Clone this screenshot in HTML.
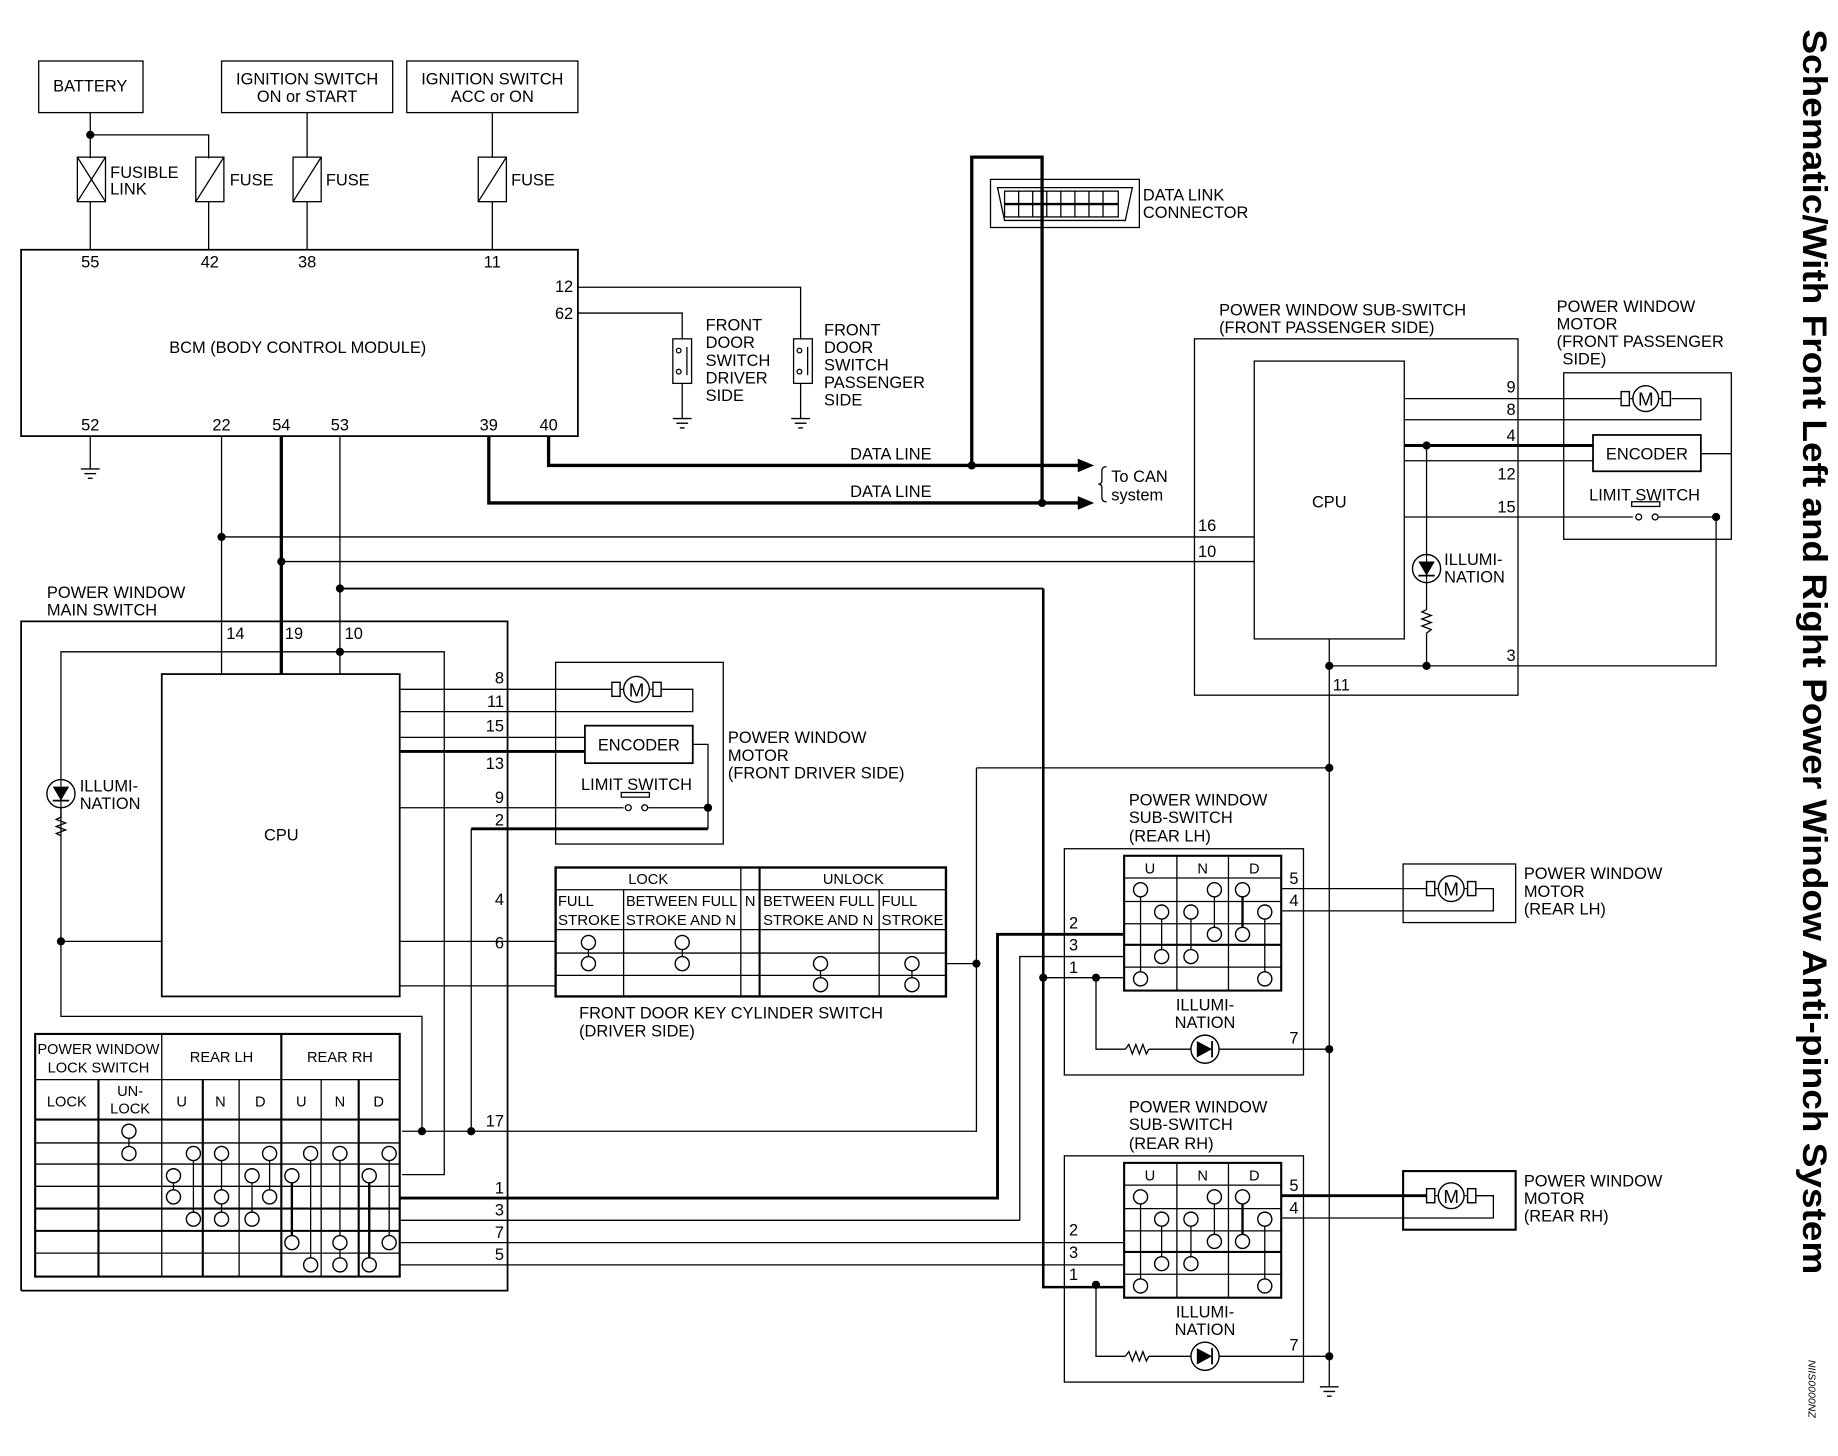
<!DOCTYPE html>
<html><head><meta charset="utf-8"><style>
html,body{margin:0;padding:0;background:#fff;}
svg{display:block;}
text{font-family:"Liberation Sans",sans-serif;font-size:14px;fill:#000;}
.t{font-size:12.5px;}
</style></head><body>
<svg width="1838" height="1456" viewBox="0 0 1568 1242" xmlns="http://www.w3.org/2000/svg">
<defs>
<g id="mot"><rect x="-21" y="-6" width="7" height="12" fill="#fff" stroke="#000" stroke-width="1.2"/><rect x="14" y="-6" width="7" height="12" fill="#fff" stroke="#000" stroke-width="1.2"/><line x1="-14" y1="0" x2="14" y2="0" stroke="#000"/><circle r="11" fill="#fff" stroke="#000" stroke-width="1.2"/><text x="0" y="6" text-anchor="middle" style="font-size:16px">M</text></g>
<g id="gnd"><line x1="-8" y1="0" x2="8" y2="0" stroke="#000" stroke-width="1.2"/><line x1="-5" y1="4" x2="5" y2="4" stroke="#000" stroke-width="1.2"/><line x1="-2" y1="8" x2="2" y2="8" stroke="#000" stroke-width="1.2"/></g>
<g id="c"><circle r="6" fill="#fff" stroke="#000" stroke-width="1.2"/></g>
<g id="dot"><circle r="3.5" fill="#000"/></g>
<g id="diode"><circle r="12" fill="#fff" stroke="#000" stroke-width="1.2"/><polygon points="-7,-7 -7,7 6,0" fill="#000"/><line x1="6" y1="-7" x2="6" y2="7" stroke="#000" stroke-width="1.5"/></g>
<g id="diodev"><circle r="12" fill="#fff" stroke="#000" stroke-width="1.2"/><polygon points="-7,-6 7,-6 0,6" fill="#000"/><line x1="-7" y1="6" x2="7" y2="6" stroke="#000" stroke-width="1.5"/><line x1="0" y1="-12" x2="0" y2="12" stroke="#000"/></g>
</defs>
<g fill="none" stroke="#000" stroke-width="1.1">
<rect x="33" y="52" width="89" height="44"/>
<rect x="189" y="52" width="146" height="44"/>
<rect x="347" y="52" width="146" height="44"/>
<polyline points="77,96 77,135"/><polyline points="77,115 178,115 178,135"/>
<rect x="66" y="134" width="24" height="38"/><line x1="66" y1="134" x2="90" y2="172"/><line x1="90" y1="134" x2="66" y2="172"/>
<rect x="167" y="134" width="24" height="38"/><line x1="191" y1="134" x2="167" y2="172"/>
<rect x="250" y="134" width="24" height="38"/><line x1="274" y1="134" x2="250" y2="172"/>
<rect x="408" y="134" width="24" height="38"/><line x1="432" y1="134" x2="408" y2="172"/>
<line x1="262" y1="96" x2="262" y2="134"/><line x1="420" y1="96" x2="420" y2="134"/>
<line x1="77" y1="172" x2="77" y2="213"/><line x1="178" y1="172" x2="178" y2="213"/><line x1="262" y1="172" x2="262" y2="213"/><line x1="420" y1="172" x2="420" y2="213"/>
<rect x="18" y="213" width="475" height="159" stroke-width="1.5"/>
<polyline points="493,245 683,245 683,289"/><polyline points="493,267 582,267 582,289"/>
<rect x="574" y="289" width="16" height="38"/><rect x="677" y="289" width="16" height="38"/>
<line x1="586" y1="296" x2="586" y2="320"/><line x1="689" y1="296" x2="689" y2="320"/>
<circle cx="579" cy="299" r="2"/><circle cx="579" cy="317" r="2"/><circle cx="682" cy="299" r="2"/><circle cx="682" cy="317" r="2"/>
<line x1="582" y1="327" x2="582" y2="357"/><line x1="683" y1="327" x2="683" y2="357"/>
<line x1="77" y1="372" x2="77" y2="400"/>
<polygon points="845,153 972,153 972,194 845,194"/>
<polygon points="851,160 966,160 960,188 857,188"/>
<rect x="857" y="163" width="97" height="22"/><line x1="857" y1="174" x2="954" y2="174" stroke-width="2"/>
<line x1="869" y1="163" x2="869" y2="185"/><line x1="881" y1="163" x2="881" y2="185"/><line x1="893" y1="163" x2="893" y2="185"/><line x1="905" y1="163" x2="905" y2="185"/><line x1="917" y1="163" x2="917" y2="185"/><line x1="929" y1="163" x2="929" y2="185"/><line x1="941" y1="163" x2="941" y2="185"/>
<g stroke-width="2.8">
<polyline points="829,396 829,134 889,134 889,428"/>
<polyline points="468,372 468,397 922,397"/>
<polyline points="417,372 417,429 922,429"/>
<polyline points="240,372 240,575"/>
<polyline points="890,502 890,1098 958,1098" stroke-width="2.2"/>
</g>
<line x1="290" y1="502" x2="890" y2="502" stroke-width="1.6"/>
<polygon points="932,397 920,392 920,402" fill="#000"/><polygon points="932,429 920,424 920,434" fill="#000"/>
<path d="M944,398 q-4,0 -4,4 v8 q0,3 -3,3 q3,0 3,3 v8 q0,4 4,4"/>
<line x1="189" y1="372" x2="189" y2="575"/>
<line x1="290" y1="372" x2="290" y2="575"/>
<line x1="189" y1="458" x2="1070" y2="458"/>
<line x1="240" y1="479" x2="1070" y2="479"/>
<polyline points="18,1101 18,530 433,530 433,1101 18,1101" stroke-width="1.5"/>
<rect x="138" y="575" width="203" height="275" stroke-width="1.5"/>
<polyline points="52,665 52,556 379,556 379,1002 343,1002"/>
<polyline points="52,689 52,867 360,867 360,965"/>
<line x1="52" y1="803" x2="138" y2="803"/>
<line x1="341" y1="588" x2="522" y2="588"/><polyline points="564,588 591,588 591,607 341,607"/>
<line x1="341" y1="629" x2="499" y2="629"/>
<line x1="341" y1="689" x2="532" y2="689"/><line x1="553" y1="689" x2="604" y2="689"/>
<polyline points="591,635 604,635 604,707"/>
<rect x="474" y="565" width="143" height="155"/>
<rect x="499" y="619" width="92" height="32" stroke-width="1.5"/>
<rect x="530" y="676" width="24" height="4"/><circle cx="536" cy="689" r="2.5"/><circle cx="550" cy="689" r="2.5"/>
<g stroke-width="2.5"><line x1="341" y1="641" x2="499" y2="641"/><polyline points="604,707 402,707"/><polyline points="341,1022 851,1022 851,797 958,797"/></g>
<line x1="402" y1="707" x2="402" y2="965"/>
<line x1="341" y1="803" x2="474" y2="803"/><line x1="341" y1="841" x2="474" y2="841"/>
<polyline points="807,822 833,822"/><polyline points="833,655 833,965 343,965"/>
<line x1="833" y1="655" x2="1133" y2="655"/>
<rect x="474" y="740" width="333" height="110" stroke-width="2"/>
<line x1="474" y1="759" x2="807" y2="759"/><line x1="474" y1="793" x2="807" y2="793"/><line x1="474" y1="813" x2="807" y2="813"/><line x1="474" y1="832" x2="807" y2="832"/>
<line x1="532" y1="759" x2="532" y2="850"/><line x1="632" y1="740" x2="632" y2="850"/><line x1="648" y1="740" x2="648" y2="850" stroke-width="1.8"/><line x1="750" y1="759" x2="750" y2="850"/>
<line x1="502" y1="804" x2="502" y2="822"/><line x1="582" y1="804" x2="582" y2="822"/><line x1="700" y1="822" x2="700" y2="840"/><line x1="778" y1="822" x2="778" y2="840"/>
<rect x="30" y="882" width="311" height="207" stroke-width="1.8"/>
<line x1="30" y1="921" x2="341" y2="921"/><line x1="30" y1="955" x2="341" y2="955" stroke-width="1.8"/>
<line x1="30" y1="975" x2="341" y2="975"/><line x1="30" y1="993" x2="341" y2="993"/><line x1="30" y1="1012" x2="341" y2="1012"/><line x1="30" y1="1031" x2="341" y2="1031" stroke-width="1.8"/><line x1="30" y1="1050" x2="341" y2="1050" stroke-width="1.8"/><line x1="30" y1="1069" x2="341" y2="1069"/>
<line x1="84" y1="921" x2="84" y2="1089" stroke-width="1.8"/><line x1="138" y1="882" x2="138" y2="1089"/><line x1="173" y1="921" x2="173" y2="1089" stroke-width="1.8"/><line x1="204" y1="921" x2="204" y2="1089"/><line x1="240" y1="882" x2="240" y2="1089" stroke-width="1.8"/><line x1="274" y1="921" x2="274" y2="1089"/><line x1="306" y1="921" x2="306" y2="1089" stroke-width="1.8"/>
<line x1="110" y1="965" x2="110" y2="984"/>
<line x1="148" y1="1003" x2="148" y2="1021"/><line x1="165" y1="984" x2="165" y2="1040"/><line x1="189" y1="984" x2="189" y2="1040"/><line x1="215" y1="1003" x2="215" y2="1040"/><line x1="230" y1="984" x2="230" y2="1021"/>
<line x1="249" y1="1003" x2="249" y2="1060" stroke-width="2"/><line x1="265" y1="984" x2="265" y2="1079"/><line x1="290" y1="984" x2="290" y2="1079"/><line x1="315" y1="1003" x2="315" y2="1079" stroke-width="2"/><line x1="332" y1="984" x2="332" y2="1060"/>
<line x1="341" y1="1041" x2="870" y2="1041"/><polyline points="870,1041 870,816 958,816"/>
<line x1="341" y1="1060" x2="958" y2="1060"/><line x1="341" y1="1079" x2="958" y2="1079"/>
<rect x="1019" y="289" width="276" height="304"/>
<rect x="1070" y="308" width="128" height="237"/>
<line x1="1198" y1="340" x2="1383" y2="340"/><polyline points="1426,340 1451,340 1451,358 1198,358"/>
<line x1="1198" y1="393" x2="1359" y2="393"/>
<polyline points="1451,387 1477,387"/>
<line x1="1198" y1="441" x2="1393" y2="441"/><line x1="1415" y1="441" x2="1464" y2="441"/>
<polyline points="1464,441 1464,568 1134,568"/>
<line x1="1217" y1="380" x2="1217" y2="473"/><line x1="1217" y1="497" x2="1217" y2="520"/><line x1="1217" y1="540" x2="1217" y2="568"/>
<line x1="1134" y1="545" x2="1134" y2="1183"/>
<rect x="1334" y="318" width="143" height="142"/>
<rect x="1359" y="371" width="92" height="31" stroke-width="1.5"/>
<rect x="1392" y="428" width="24" height="4"/><circle cx="1398" cy="441" r="2.5"/><circle cx="1412" cy="441" r="2.5"/>
<rect x="908" y="724" width="204" height="193"/>
<rect x="908" y="986" width="204" height="193"/>
<rect x="1197" y="737" width="96" height="50"/>
<rect x="1197" y="999" width="96" height="50" stroke-width="1.8"/>
<line x1="1093" y1="758" x2="1217" y2="758"/><polyline points="1259,758 1274,758 1274,777 1093,777"/>
<line x1="1093" y1="1020" x2="1217" y2="1020" stroke-width="2.5"/><polyline points="1259,1020 1274,1020 1274,1039 1093,1039"/>
<polyline points="890,834 958,834"/>
<polyline points="935,834 935,895 960,895"/><polyline points="980,895 1134,895"/>
<polyline points="935,1096 935,1157 960,1157"/><polyline points="980,1157 1134,1157"/>
<path d="M960,895 l3,-4 l3,8 l3,-8 l3,8 l3,-8 l3,8 l2,-4"/>
<path d="M960,1157 l3,-4 l3,8 l3,-8 l3,8 l3,-8 l3,8 l2,-4"/>
<path d="M1217,520 l-4,2 l8,3 l-8,3 l8,3 l-8,3 l8,3 l-4,3"/>
<path d="M52,689 l0,8 l-4,2 l8,3 l-8,3 l8,3 l-8,3 l4,2"/>
</g>
<g fill="none" stroke="#000" stroke-width="1.1" id="rsw">
<rect x="959" y="730" width="134" height="115" stroke-width="1.8"/>
<line x1="959" y1="749" x2="1093" y2="749"/><line x1="959" y1="769" x2="1093" y2="769"/><line x1="959" y1="788" x2="1093" y2="788"/><line x1="959" y1="806" x2="1093" y2="806" stroke-width="1.8"/><line x1="959" y1="825" x2="1093" y2="825"/>
<line x1="1004" y1="730" x2="1004" y2="845"/><line x1="1048" y1="730" x2="1048" y2="845"/>
<line x1="973" y1="759" x2="973" y2="835"/><line x1="991" y1="778" x2="991" y2="816"/><line x1="1016" y1="778" x2="1016" y2="816"/><line x1="1036" y1="759" x2="1036" y2="797"/><line x1="1060" y1="759" x2="1060" y2="797" stroke-width="2"/><line x1="1079" y1="778" x2="1079" y2="835"/>
<use href="#c" x="973" y="759"/><use href="#c" x="1036" y="759"/><use href="#c" x="1060" y="759"/>
<use href="#c" x="991" y="778"/><use href="#c" x="1016" y="778"/><use href="#c" x="1079" y="778"/>
<use href="#c" x="1036" y="797"/><use href="#c" x="1060" y="797"/>
<use href="#c" x="991" y="816"/><use href="#c" x="1016" y="816"/>
<use href="#c" x="973" y="835"/><use href="#c" x="1079" y="835"/>
</g>
<use href="#rsw" y="262"/>
<use href="#c" x="502" y="804"/><use href="#c" x="502" y="822"/><use href="#c" x="582" y="804"/><use href="#c" x="582" y="822"/>
<use href="#c" x="700" y="822"/><use href="#c" x="700" y="840"/><use href="#c" x="778" y="822"/><use href="#c" x="778" y="840"/>
<use href="#c" x="110" y="965"/><use href="#c" x="110" y="984"/>
<use href="#c" x="165" y="984"/><use href="#c" x="189" y="984"/><use href="#c" x="230" y="984"/><use href="#c" x="265" y="984"/><use href="#c" x="290" y="984"/><use href="#c" x="332" y="984"/>
<use href="#c" x="148" y="1003"/><use href="#c" x="215" y="1003"/><use href="#c" x="249" y="1003"/><use href="#c" x="315" y="1003"/>
<use href="#c" x="148" y="1021"/><use href="#c" x="189" y="1021"/><use href="#c" x="230" y="1021"/>
<use href="#c" x="165" y="1040"/><use href="#c" x="189" y="1040"/><use href="#c" x="215" y="1040"/>
<use href="#c" x="249" y="1060"/><use href="#c" x="290" y="1060"/><use href="#c" x="332" y="1060"/>
<use href="#c" x="265" y="1079"/><use href="#c" x="290" y="1079"/><use href="#c" x="315" y="1079"/>
<use href="#mot" x="543" y="588"/><use href="#mot" x="1404" y="340"/><use href="#mot" x="1238" y="758"/><use href="#mot" x="1238" y="1020"/>
<use href="#diodev" x="52" y="677"/><use href="#diodev" x="1217" y="485"/>
<use href="#diode" x="1028" y="895"/><use href="#diode" x="1028" y="1157"/>
<use href="#gnd" x="77" y="400"/><use href="#gnd" x="582" y="357"/><use href="#gnd" x="683" y="357"/><use href="#gnd" x="1134" y="1183"/>
<use href="#dot" x="77" y="115"/><use href="#dot" x="829" y="397"/><use href="#dot" x="889" y="429"/>
<use href="#dot" x="189" y="458"/><use href="#dot" x="240" y="479"/><use href="#dot" x="290" y="502"/><use href="#dot" x="290" y="556"/>
<use href="#dot" x="52" y="803"/><use href="#dot" x="604" y="689"/><use href="#dot" x="833" y="822"/>
<use href="#dot" x="360" y="965"/><use href="#dot" x="402" y="965"/>
<use href="#dot" x="1134" y="568"/><use href="#dot" x="1217" y="568"/><use href="#dot" x="1217" y="380"/><use href="#dot" x="1464" y="441"/>
<use href="#dot" x="1134" y="655"/><use href="#dot" x="1134" y="895"/><use href="#dot" x="1134" y="1157"/>
<use href="#dot" x="890" y="834"/><use href="#dot" x="935" y="834"/><use href="#dot" x="935" y="1096"/>
<g stroke="#000" stroke-width="2.5"><line x1="1198" y1="380" x2="1359" y2="380"/></g>
<text x="77" y="78" text-anchor="middle">BATTERY</text>
<text x="262" y="72" text-anchor="middle">IGNITION SWITCH</text><text x="262" y="87" text-anchor="middle">ON or START</text>
<text x="420" y="72" text-anchor="middle">IGNITION SWITCH</text><text x="420" y="87" text-anchor="middle">ACC or ON</text>
<text x="94" y="152">FUSIBLE</text><text x="94" y="166">LINK</text>
<text x="196" y="158">FUSE</text><text x="278" y="158">FUSE</text><text x="436" y="158">FUSE</text>
<g text-anchor="middle"><text x="77" y="228">55</text><text x="179" y="228">42</text><text x="262" y="228">38</text><text x="420" y="228">11</text>
<text x="77" y="367">52</text><text x="189" y="367">22</text><text x="240" y="367">54</text><text x="290" y="367">53</text><text x="417" y="367">39</text><text x="468" y="367">40</text></g>
<text x="489" y="249" text-anchor="end">12</text><text x="489" y="272" text-anchor="end">62</text>
<text x="254" y="301" text-anchor="middle">BCM (BODY CONTROL MODULE)</text>
<text x="602" y="282">FRONT</text><text x="602" y="297">DOOR</text><text x="602" y="312">SWITCH</text><text x="602" y="327">DRIVER</text><text x="602" y="342">SIDE</text>
<text x="703" y="286">FRONT</text><text x="703" y="301">DOOR</text><text x="703" y="316">SWITCH</text><text x="703" y="331">PASSENGER</text><text x="703" y="346">SIDE</text>
<text x="975" y="171">DATA LINK</text><text x="975" y="186">CONNECTOR</text>
<text x="760" y="392" text-anchor="middle">DATA LINE</text><text x="760" y="424" text-anchor="middle">DATA LINE</text>
<text x="948" y="411">To CAN</text><text x="948" y="427">system</text>
<text x="40" y="510">POWER WINDOW</text><text x="40" y="525">MAIN SWITCH</text>
<text x="193" y="545">14</text><text x="243" y="545">19</text><text x="294" y="545">10</text>
<text x="240" y="717" text-anchor="middle">CPU</text>
<text x="68" y="675">ILLUMI-</text><text x="68" y="690">NATION</text>
<g text-anchor="end"><text x="430" y="583">8</text><text x="430" y="603">11</text><text x="430" y="624">15</text><text x="430" y="656">13</text><text x="430" y="685">9</text><text x="430" y="704">2</text><text x="430" y="772">4</text><text x="430" y="809">6</text>
<text x="430" y="961">17</text><text x="430" y="1018">1</text><text x="430" y="1037">3</text><text x="430" y="1056">7</text><text x="430" y="1075">5</text></g>
<text x="545" y="640" text-anchor="middle">ENCODER</text><text x="543" y="674" text-anchor="middle">LIMIT SWITCH</text>
<text x="621" y="634">POWER WINDOW</text><text x="621" y="649">MOTOR</text><text x="621" y="664">(FRONT DRIVER SIDE)</text>
<g class="t">
<text class="t" x="553" y="754" text-anchor="middle">LOCK</text><text class="t" x="728" y="754" text-anchor="middle">UNLOCK</text>
<text class="t" x="476" y="773">FULL</text><text class="t" x="476" y="789" textLength="53" lengthAdjust="spacingAndGlyphs">STROKE</text>
<text class="t" x="534" y="773" textLength="95" lengthAdjust="spacingAndGlyphs">BETWEEN FULL</text><text class="t" x="534" y="789" textLength="94" lengthAdjust="spacingAndGlyphs">STROKE AND N</text>
<text class="t" x="640" y="773" text-anchor="middle">N</text>
<text class="t" x="651" y="773" textLength="95" lengthAdjust="spacingAndGlyphs">BETWEEN FULL</text><text class="t" x="651" y="789" textLength="94" lengthAdjust="spacingAndGlyphs">STROKE AND N</text>
<text class="t" x="752" y="773">FULL</text><text class="t" x="752" y="789" textLength="53" lengthAdjust="spacingAndGlyphs">STROKE</text>
<text class="t" x="32" y="899" textLength="104" lengthAdjust="spacingAndGlyphs">POWER WINDOW</text><text class="t" x="84" y="915" text-anchor="middle">LOCK SWITCH</text>
<text class="t" x="189" y="906" text-anchor="middle">REAR LH</text><text class="t" x="290" y="906" text-anchor="middle">REAR RH</text>
<text class="t" x="57" y="944" text-anchor="middle">LOCK</text><text class="t" x="111" y="935" text-anchor="middle">UN-</text><text class="t" x="111" y="950" text-anchor="middle">LOCK</text>
<text class="t" x="155" y="944" text-anchor="middle">U</text><text class="t" x="188" y="944" text-anchor="middle">N</text><text class="t" x="222" y="944" text-anchor="middle">D</text><text class="t" x="257" y="944" text-anchor="middle">U</text><text class="t" x="290" y="944" text-anchor="middle">N</text><text class="t" x="323" y="944" text-anchor="middle">D</text>
<text class="t" x="981" y="745" text-anchor="middle">U</text><text class="t" x="1026" y="745" text-anchor="middle">N</text><text class="t" x="1070" y="745" text-anchor="middle">D</text>
<text class="t" x="981" y="1007" text-anchor="middle">U</text><text class="t" x="1026" y="1007" text-anchor="middle">N</text><text class="t" x="1070" y="1007" text-anchor="middle">D</text>
</g>
<text x="494" y="869">FRONT DOOR KEY CYLINDER SWITCH</text><text x="494" y="884">(DRIVER SIDE)</text>
<text x="1040" y="269">POWER WINDOW SUB-SWITCH</text><text x="1040" y="284">(FRONT PASSENGER SIDE)</text>
<text x="1328" y="266">POWER WINDOW</text><text x="1328" y="281">MOTOR</text><text x="1328" y="296">(FRONT PASSENGER</text><text x="1333" y="311">SIDE)</text>
<text x="1134" y="433" text-anchor="middle">CPU</text>
<g text-anchor="end"><text x="1293" y="335">9</text><text x="1293" y="354">8</text><text x="1293" y="376">4</text><text x="1293" y="409">12</text><text x="1293" y="437">15</text><text x="1293" y="564">3</text></g>
<text x="1022" y="453">16</text><text x="1022" y="475">10</text><text x="1137" y="589">11</text>
<text x="1405" y="392" text-anchor="middle">ENCODER</text><text x="1403" y="427" text-anchor="middle">LIMIT SWITCH</text>
<text x="1232" y="482">ILLUMI-</text><text x="1232" y="497">NATION</text>
<text x="963" y="687">POWER WINDOW</text><text x="963" y="702">SUB-SWITCH</text><text x="963" y="718">(REAR LH)</text>
<text x="963" y="949">POWER WINDOW</text><text x="963" y="964">SUB-SWITCH</text><text x="963" y="980">(REAR RH)</text>
<text x="1028" y="862" text-anchor="middle">ILLUMI-</text><text x="1028" y="877" text-anchor="middle">NATION</text>
<text x="1028" y="1124" text-anchor="middle">ILLUMI-</text><text x="1028" y="1139" text-anchor="middle">NATION</text>
<text x="1100" y="754">5</text><text x="1100" y="773">4</text><text x="1100" y="890">7</text>
<text x="1100" y="1016">5</text><text x="1100" y="1035">4</text><text x="1100" y="1152">7</text>
<text x="912" y="792">2</text><text x="912" y="811">3</text><text x="912" y="830">1</text>
<text x="912" y="1054">2</text><text x="912" y="1073">3</text><text x="912" y="1092">1</text>
<text x="1300" y="750">POWER WINDOW</text><text x="1300" y="765">MOTOR</text><text x="1300" y="780">(REAR LH)</text>
<text x="1300" y="1012">POWER WINDOW</text><text x="1300" y="1027">MOTOR</text><text x="1300" y="1042">(REAR RH)</text>
<text transform="translate(1538,25) rotate(90)" style="font-size:29px;font-weight:bold" textLength="1062" lengthAdjust="spacingAndGlyphs">Schematic/With Front Left and Right Power Window Anti-pinch System</text>
<text transform="translate(1543,1160) rotate(90)" style="font-size:9px;font-style:italic">NIIS0000NZ</text>
</svg>
</body></html>
